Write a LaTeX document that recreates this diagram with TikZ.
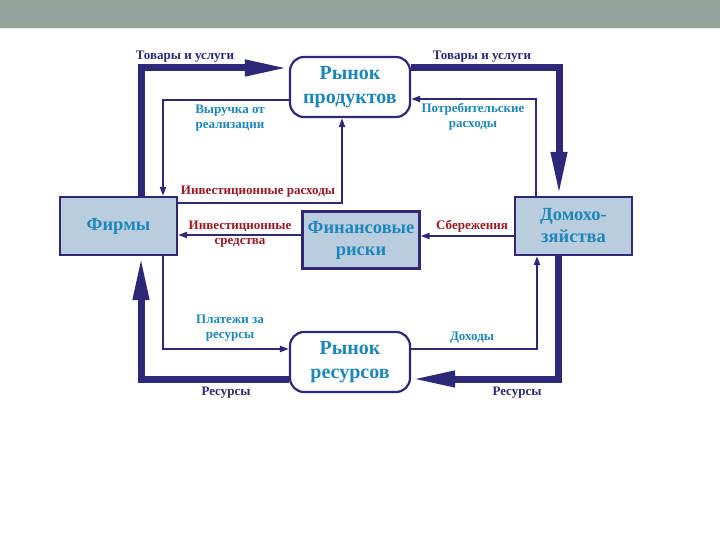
\documentclass[tikz,border=0pt]{standalone}
\usepackage{fontspec}
\setmainfont{Liberation Serif}
\usetikzlibrary{arrows.meta}
\definecolor{navy}{RGB}{45,40,120}
\definecolor{sky}{RGB}{30,135,185}
\definecolor{wine}{RGB}{150,25,35}
\definecolor{boxfill}{RGB}{185,205,222}
\definecolor{band}{RGB}{147,163,154}

\begin{document}
\begin{tikzpicture}[x=1pt,y=-1pt]
		\tikzstyle{box}=[draw=navy,line width=2.2pt,fill=boxfill,text=sky,font=\bfseries\fontsize{18.5}{22}\selectfont,align=center,minimum width=117pt,inner sep=0pt]
		\tikzstyle{mkt}=[box,fill=white,rounded corners=14pt,minimum width=120pt,minimum height=60pt,font=\bfseries\fontsize{20}{24}\selectfont]
		\tikzstyle{flow}=[draw=navy,line width=2pt,-{Triangle[length=9pt,width=6pt]}]
		\tikzstyle{bigflow}=[draw=navy,line width=7pt,-{Triangle[length=44pt,width=15pt]}]
		\tikzstyle{lbl}=[font=\bfseries\fontsize{13}{15}\selectfont,align=center,inner sep=1pt]
		\useasboundingbox (0,0) rectangle (720,540);
		% header band
		\fill[band] (0,0) rectangle (720,28);
		\draw[white!75!band] (0,28.5) -- (720,28.5);
		% nodes
		\node[mkt] (prod) at (350,87) {Рынок\\продуктов};
		\node[mkt] (res) at (350,362) {Рынок\\ресурсов};
		\node[box,minimum height=58pt] (firms) at (118.5,226) {Фирмы};
		\node[box,minimum height=57pt] (fin) at (361,240) {Финансовые\\риски};
		\node[box,minimum height=58pt] (house) at (573.5,226) {Домохо-\\зяйства};
		% corners
		\coordinate (tl) at (141,68);
		\coordinate (tr) at (559,68);
		\coordinate (br) at (558,379);
		\coordinate (bl) at (141,379);
		\coordinate (rv) at (163,100);
		\coordinate (cs) at (536,99);
		\coordinate (ip) at (342,203);
		\coordinate (pr) at (163,349);
		\coordinate (in) at (537,349);
		% real flows
		\draw[bigflow] (firms.north -| tl) -- (tl) -- (tl -| prod.west);
		\draw[bigflow] (tr -| prod.east) -- (tr) -- (tr |- house.north);
		\draw[bigflow] (house.south -| br) -- (br) -- (br -| res.east);
		\draw[bigflow] (bl -| res.west) -- (bl) -- (bl |- firms.south);
		% money flows
		\draw[flow] (rv -| prod.west) -- (rv) -- (rv |- firms.north);
		\draw[flow] (house.north -| cs) -- (cs) -- (cs -| prod.east);
		\draw[flow] (ip -| firms.east) -- (ip) -- (ip |- prod.south);
		\draw[flow] ([yshift=5pt]fin.west) coordinate (fw) -- (fw -| firms.east);
		\draw[flow] ([yshift=-10pt]house.west) coordinate (hw) -- (hw -| fin.east);
		\draw[flow] (firms.south -| pr) -- (pr) -- (pr -| res.west);
		\draw[flow] (in -| res.east) -- (in) -- (in |- house.south);
		% labels
		\node[lbl,text=navy] (gs1) at (185,57) {Товары и услуги};
		\node[lbl,text=navy] (gs2) at (482,57) {Товары и услуги};
		\node[lbl,text=sky] (rev) at (230,118) {Выручка от\\реализации};
		\node[lbl,text=sky] (cons) at (473,117) {Потребительские\\расходы};
		\node[lbl,text=wine] (invs) at (258,192) {Инвестиционные расходы};
		\node[lbl,text=wine] (invf) at (240,234) {Инвестиционные\\средства};
		\node[lbl,text=wine] (sav) at (472,226) {Сбережения};
		\node[lbl,text=sky] (pay) at (230,328) {Платежи за\\ресурсы};
		\node[lbl,text=sky] (inc) at (472,338) {Доходы};
		\node[lbl,text=navy] (rs1) at (226,393) {Ресурсы};
		\node[lbl,text=navy] (rs2) at (517,393) {Ресурсы};
\end{tikzpicture}
\end{document}
